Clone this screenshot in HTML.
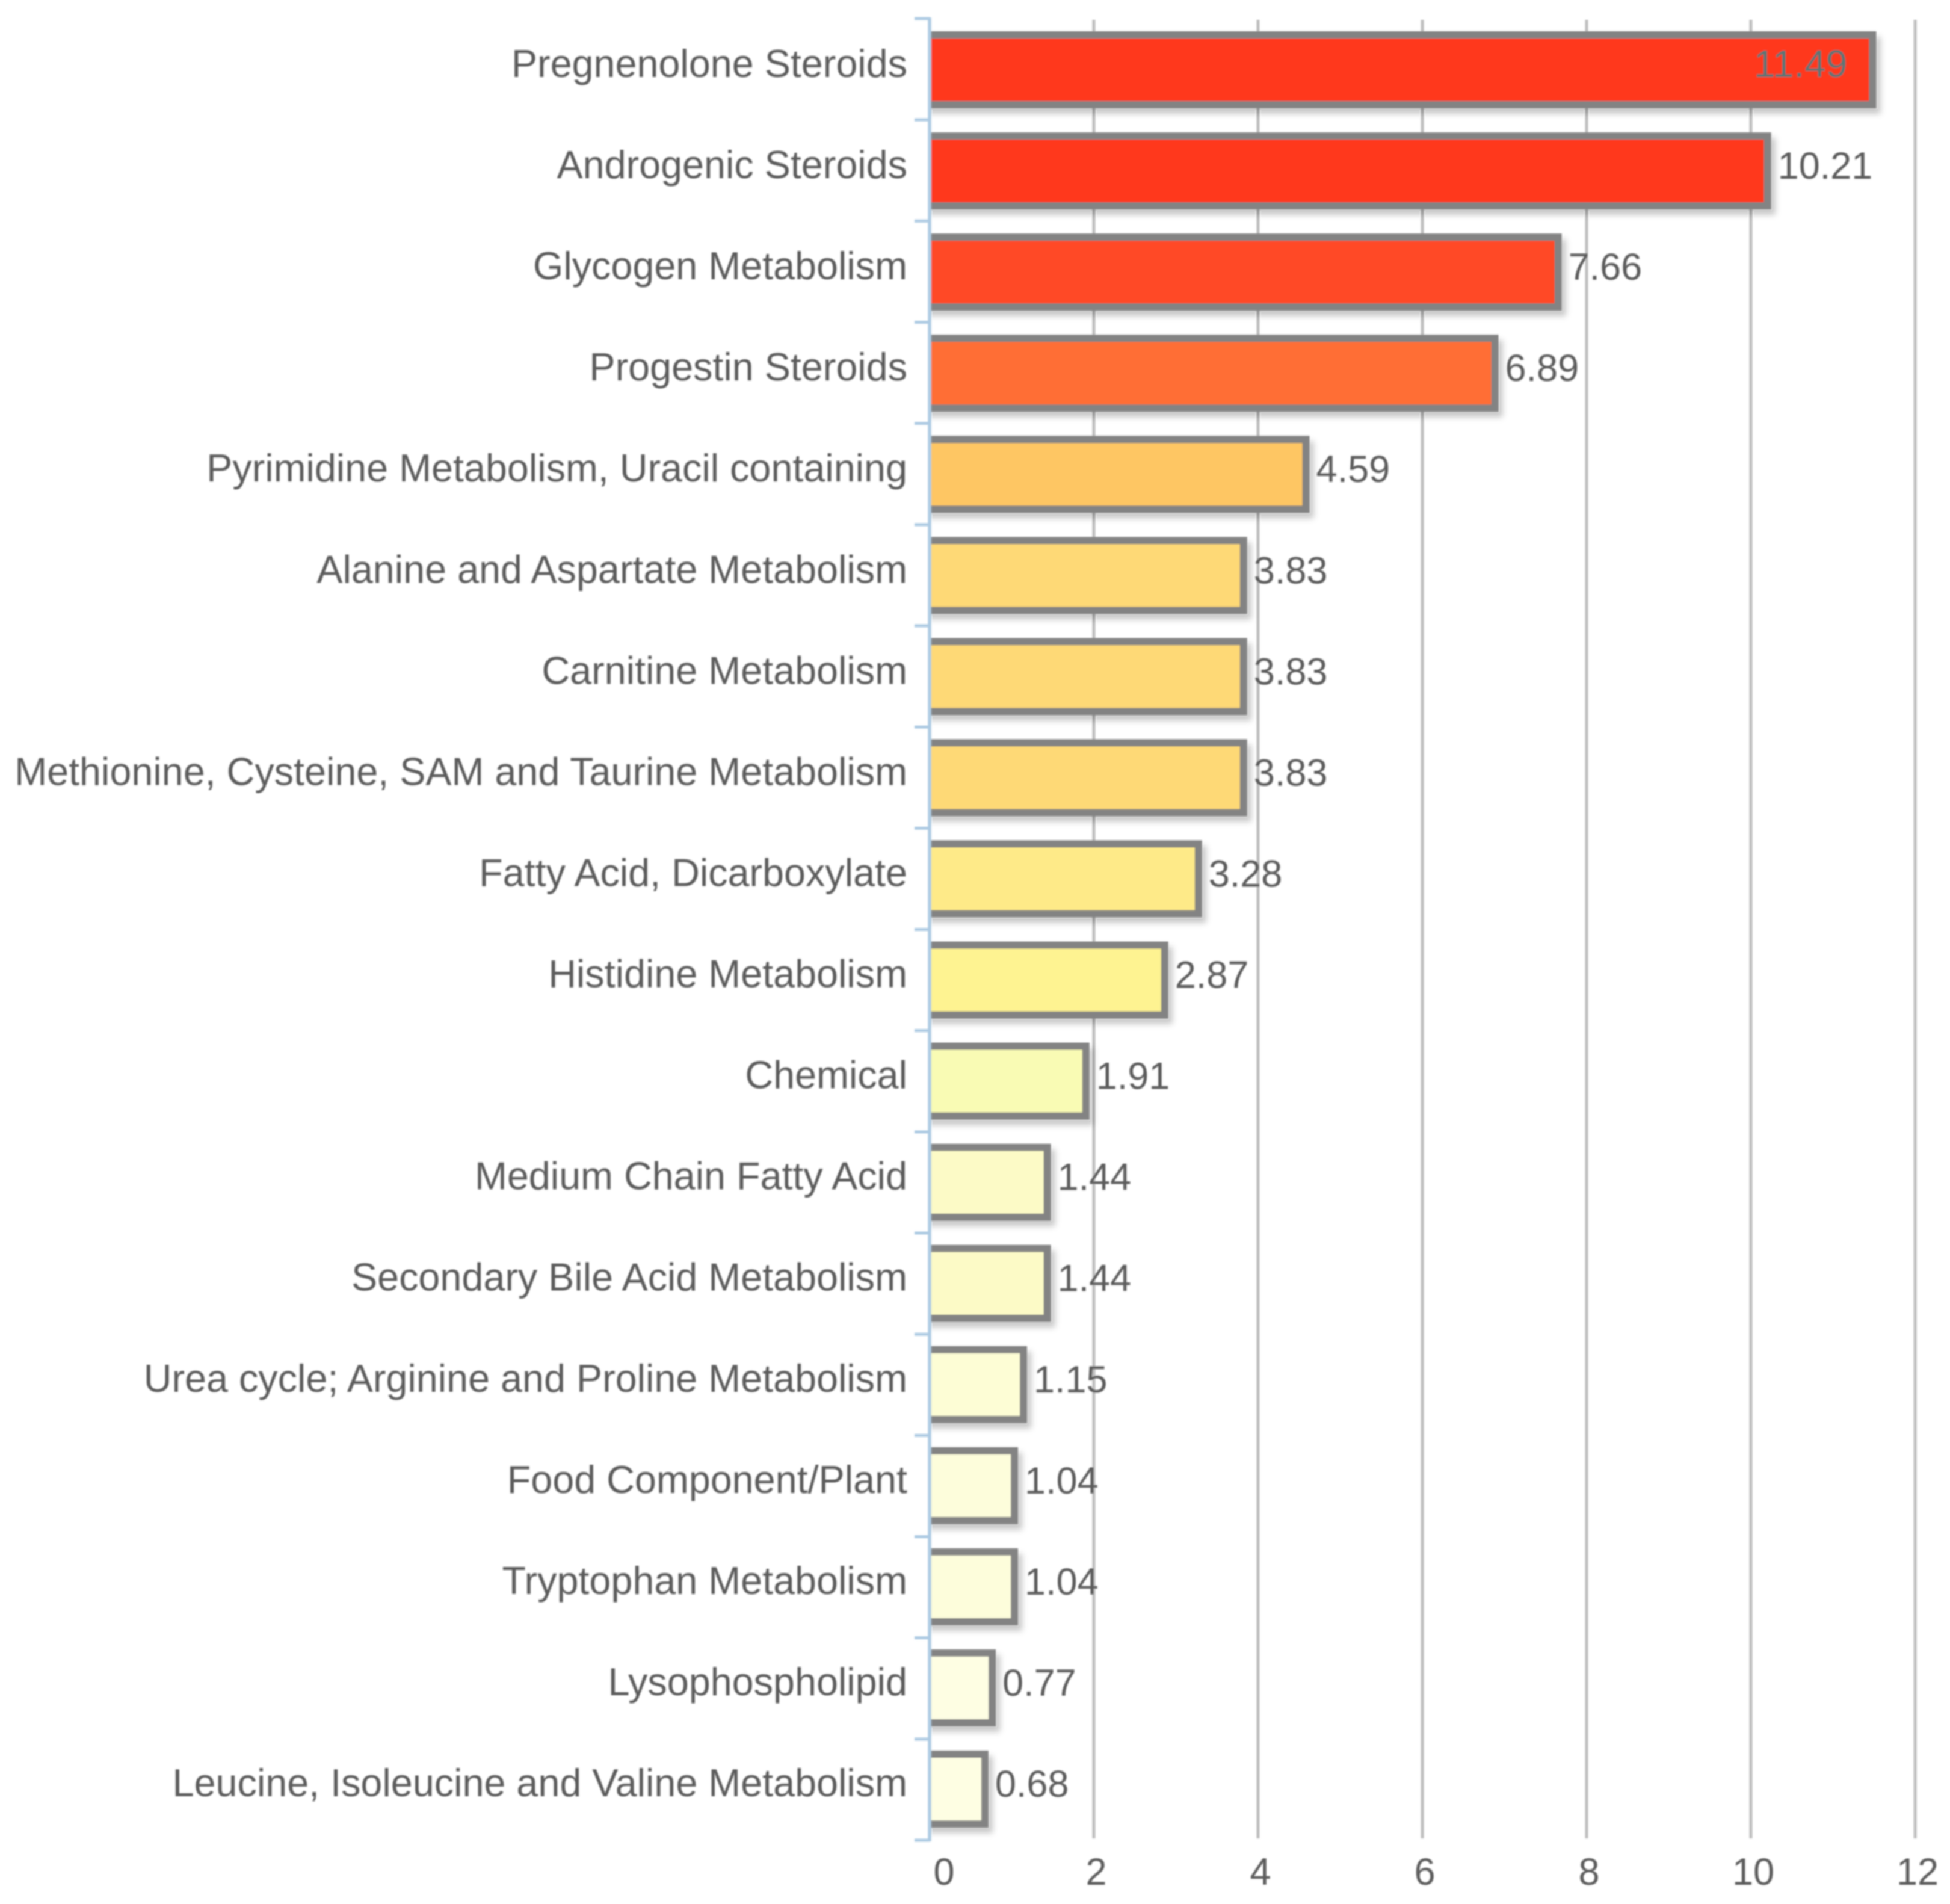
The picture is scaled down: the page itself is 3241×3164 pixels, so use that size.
<!DOCTYPE html>
<html lang="en">
<head>
<meta charset="utf-8">
<title>Metabolic pathway enrichment bar chart</title>
<style>
  html, body { margin: 0; padding: 0; background: #fff; }
  svg { display: block; }
  text { font-family: "Liberation Sans", Arial, sans-serif; fill: #5c5c5c; }
</style>
</head>
<body>
<svg id="chart" xmlns="http://www.w3.org/2000/svg" width="3241" height="3164" viewBox="0 0 3241 3164">
  <defs>
    <filter id="bar-shadow" x="-10%" y="-20%" width="130%" height="150%">
      <feDropShadow dx="7" dy="9" stdDeviation="5" flood-color="#000" flood-opacity="0.22"/>
    </filter>
    <filter id="soft" x="-2%" y="-2%" width="104%" height="104%">
      <feGaussianBlur stdDeviation="1.2"/>
    </filter>
    <clipPath id="plot-clip"><rect x="1545" y="0" width="1696" height="3164"/></clipPath>
  </defs>
  <g id="root" filter="url(#soft)">
    <g id="grid"></g>
    <g id="bars" clip-path="url(#plot-clip)"></g>
    <g id="axis"></g>
    <g id="cats"></g>
    <g id="vals"></g>
    <g id="ticks"></g>
  </g>
</svg>
<script>
const categories = [
  "Pregnenolone Steroids", "Androgenic Steroids", "Glycogen Metabolism", "Progestin Steroids",
  "Pyrimidine Metabolism, Uracil containing", "Alanine and Aspartate Metabolism", "Carnitine Metabolism",
  "Methionine, Cysteine, SAM and Taurine Metabolism", "Fatty Acid, Dicarboxylate", "Histidine Metabolism",
  "Chemical", "Medium Chain Fatty Acid", "Secondary Bile Acid Metabolism",
  "Urea cycle; Arginine and Proline Metabolism", "Food Component/Plant", "Tryptophan Metabolism",
  "Lysophospholipid", "Leucine, Isoleucine and Valine Metabolism"
];
const values = [11.49, 10.21, 7.66, 6.89, 4.59, 3.83, 3.83, 3.83, 3.28, 2.87, 1.91, 1.44, 1.44, 1.15, 1.04, 1.04, 0.77, 0.68];
const printedValues = ["11.49", "10.21", "7.66", "6.89", "4.59", "3.83", "3.83", "3.83", "3.28", "2.87", "1.91", "1.44", "1.44", "1.15", "1.04", "1.04", "0.77", "0.68"];
const xTicks = [0, 2, 4, 6, 8, 10, 12];
const barFills = ["#ff391b", "#ff391b", "#ff4a25", "#ff6e34", "#fec664", "#fed976", "#fed976", "#fed976", "#feea88", "#fef391", "#f9fbb4", "#fcfac6", "#fcfac6", "#fdfdd5", "#fdfddb", "#fdfddb", "#fefee3", "#fefee3"];

const NS = "http://www.w3.org/2000/svg";
const PLOT_TOP = 31, PLOT_BOTTOM = 3058, AXIS_X = 1545;
const band = (PLOT_BOTTOM - PLOT_TOP) / categories.length;

function xScale(v) { return AXIS_X + v * 136.5; }
function bandCenter(i) { return 116 + i * 168.06; }

function make(tag, attrs, parent, txt) {
  const el = document.createElementNS(NS, tag);
  for (const k in attrs) el.setAttribute(k, attrs[k]);
  if (txt !== undefined) el.textContent = txt;
  parent.appendChild(el);
  return el;
}

const gGrid = document.getElementById("grid");
const gBars = document.getElementById("bars");
const gAxis = document.getElementById("axis");
const gCats = document.getElementById("cats");
const gVals = document.getElementById("vals");
const gTicks = document.getElementById("ticks");

xTicks.forEach(function (t) {
  if (t !== 0) {
    const line = make("line", { x1: xScale(t), x2: xScale(t), y1: 33, y2: 3055, stroke: "#bdbdbd", "stroke-width": 5 }, gGrid);
    
    
  }
  const dx = t === 0 ? 24 : 4;
  const label = make("text", { x: xScale(t) + dx, y: 3132, "text-anchor": "middle", "font-size": 63 }, gTicks, String(t));
  
  
});

categories.forEach(function (name, i) {
  const cy = bandCenter(i);
  const barEnd = xScale(values[i]) - 1;
  const barStart = AXIS_X - 12;
  const bar = make("rect", {
    x: barStart, y: cy - 58, width: barEnd - barStart, height: 116,
    fill: barFills[i], stroke: "#838383", "stroke-width": 12, filter: "url(#bar-shadow)"
  }, gBars);
  
  

  const cat = make("text", { x: 1508, y: cy + 12, "text-anchor": "end", "font-size": 64.7 }, gCats, name);
  
  

  const inside = values[i] > 11;
  const attrs = inside
    ? { x: barEnd - 42, y: cy + 12, "text-anchor": "end", "font-size": 64, style: "fill:#5c7474" }
    : { x: barEnd + 17, y: cy + 13, "text-anchor": "start", "font-size": 63 };
  const val = make("text", attrs, gVals, printedValues[i]);
  
  
});

const axisLine = make("line", { x1: AXIS_X, x2: AXIS_X, y1: PLOT_TOP - 2, y2: PLOT_BOTTOM + 2, stroke: "#adcbe3", "stroke-width": 5.5 }, gAxis);


for (let i = 0; i <= categories.length; i++) {
  const y = PLOT_TOP + i * band;
  const tick = make("line", { x1: 1520, x2: AXIS_X, y1: y, y2: y, stroke: "#adcbe3", "stroke-width": 5 }, gAxis);
  
  
}
</script>
</body>
</html>
